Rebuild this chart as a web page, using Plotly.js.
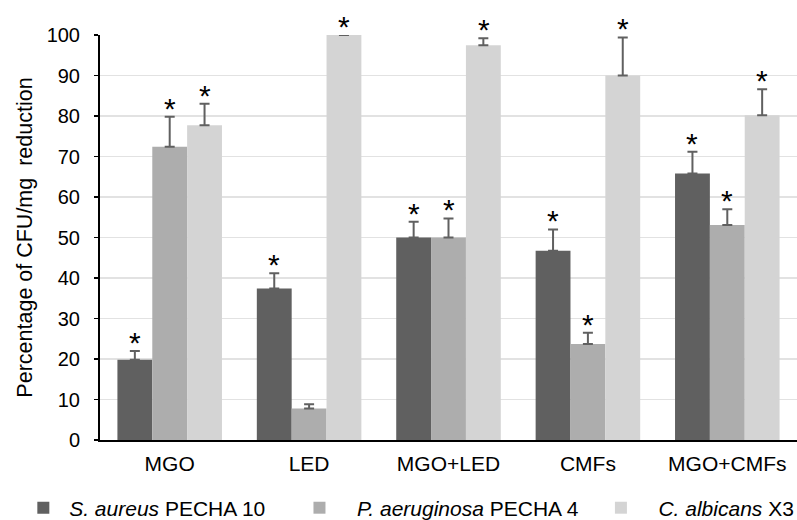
<!DOCTYPE html>
<html>
<head>
<meta charset="utf-8">
<script src="https://cdn.plot.ly/plotly-3.0.1.min.js"></script>
<style>html,body{margin:0;padding:0;background:#fff;}#chart{width:797px;height:520px;}</style>
</head>
<body>
<div id="chart"></div>
<script>
const categories = ["MGO", "LED", "MGO+LED", "CMFs", "MGO+CMFs"];
const seriesNames = ["<i>S. aureus</i> PECHA 10", "<i>P. aeruginosa</i> PECHA 4", "<i>C. albicans</i> X3"];
const sAureus = [19.8, 37.4, 50.0, 46.7, 65.8];
const sAureusErr = [2.2, 3.8, 3.9, 5.3, 5.4];
const pAeruginosa = [72.4, 7.8, 50.0, 23.7, 53.1];
const pAeruginosaErr = [7.4, 1.0, 4.7, 2.8, 3.9];
const cAlbicans = [77.7, 100.0, 97.5, 90.0, 80.2];
const cAlbicansErr = [5.3, 0.0, 1.7, 9.4, 6.4];
// significance markers (1 = asterisk shown)
const sAureusSig = [1, 1, 1, 1, 1];
const pAeruginosaSig = [1, 0, 1, 1, 1];
const cAlbicansSig = [1, 1, 1, 1, 1];

const colors = ["#606060", "#adadad", "#d4d4d4"];
const values = [sAureus, pAeruginosa, cAlbicans];
const errs = [sAureusErr, pAeruginosaErr, cAlbicansErr];
const sigs = [sAureusSig, pAeruginosaSig, cAlbicansSig];

const NB = "\u00a0";
const lead = [1, 3, 3];
const trail = [5, 3, 0];

const traces = values.map((v, i) => ({
  type: "bar",
  name: NB.repeat(lead[i]) + seriesNames[i] + NB.repeat(trail[i]),
  x: categories,
  y: v,
  marker: {color: colors[i]},
  error_y: {
    type: "data",
    symmetric: false,
    array: errs[i],
    arrayminus: v.map(() => 0),
    color: "#606060",
    thickness: 2,
    width: 5
  }
}));

const barPx = 35;
const annotations = [];
values.forEach((v, i) => {
  v.forEach((val, j) => {
    if (sigs[i][j]) {
      annotations.push({
        x: categories[j], y: val + errs[i][j],
        xref: "x", yref: "y",
        xshift: (i - 1) * barPx,
        yshift: -10,
        yanchor: "bottom",
        text: "*",
        showarrow: false,
        font: {family: "Liberation Sans, Arial, sans-serif", size: 30, color: "#000"}
      });
    }
  });
});

const layout = {
  width: 797, height: 520,
  margin: {l: 100, r: 0, t: 35, b: 80, autoexpand: false},
  paper_bgcolor: "#fff", plot_bgcolor: "#fff",
  barmode: "group",
  bargap: 0.25, bargroupgap: 0,
  font: {family: "Liberation Sans, Arial, sans-serif", color: "#000", size: 20},
  showlegend: true,
  legend: {orientation: "h", x: -0.11, xanchor: "left", y: -0.168, yanchor: "middle",
           font: {size: 21}, traceorder: "normal", bgcolor: "rgba(0,0,0,0)"},
  xaxis: {
    showline: true, linecolor: "#000", linewidth: 2,
    ticks: "", tickfont: {size: 21}, showgrid: false,
    ticklabelstandoff: 4,
    fixedrange: true
  },
  yaxis: {
    range: [0, 100], dtick: 10,
    showline: true, linecolor: "#000", linewidth: 2,
    ticks: "outside", ticklen: 4, tickwidth: 1.5, tickcolor: "#000",
    showgrid: true, gridcolor: "#e2e2e2", gridwidth: 1.5,
    zeroline: false,
    tickfont: {size: 20},
    ticklabelstandoff: 10,
    title: {text: "Percentage of CFU/mg  reduction", font: {size: 21.5}, standoff: 8}
  },
  annotations: annotations
};

Plotly.newPlot("chart", traces, layout, {displayModeBar: false, staticPlot: true});
</script>
</body>
</html>
